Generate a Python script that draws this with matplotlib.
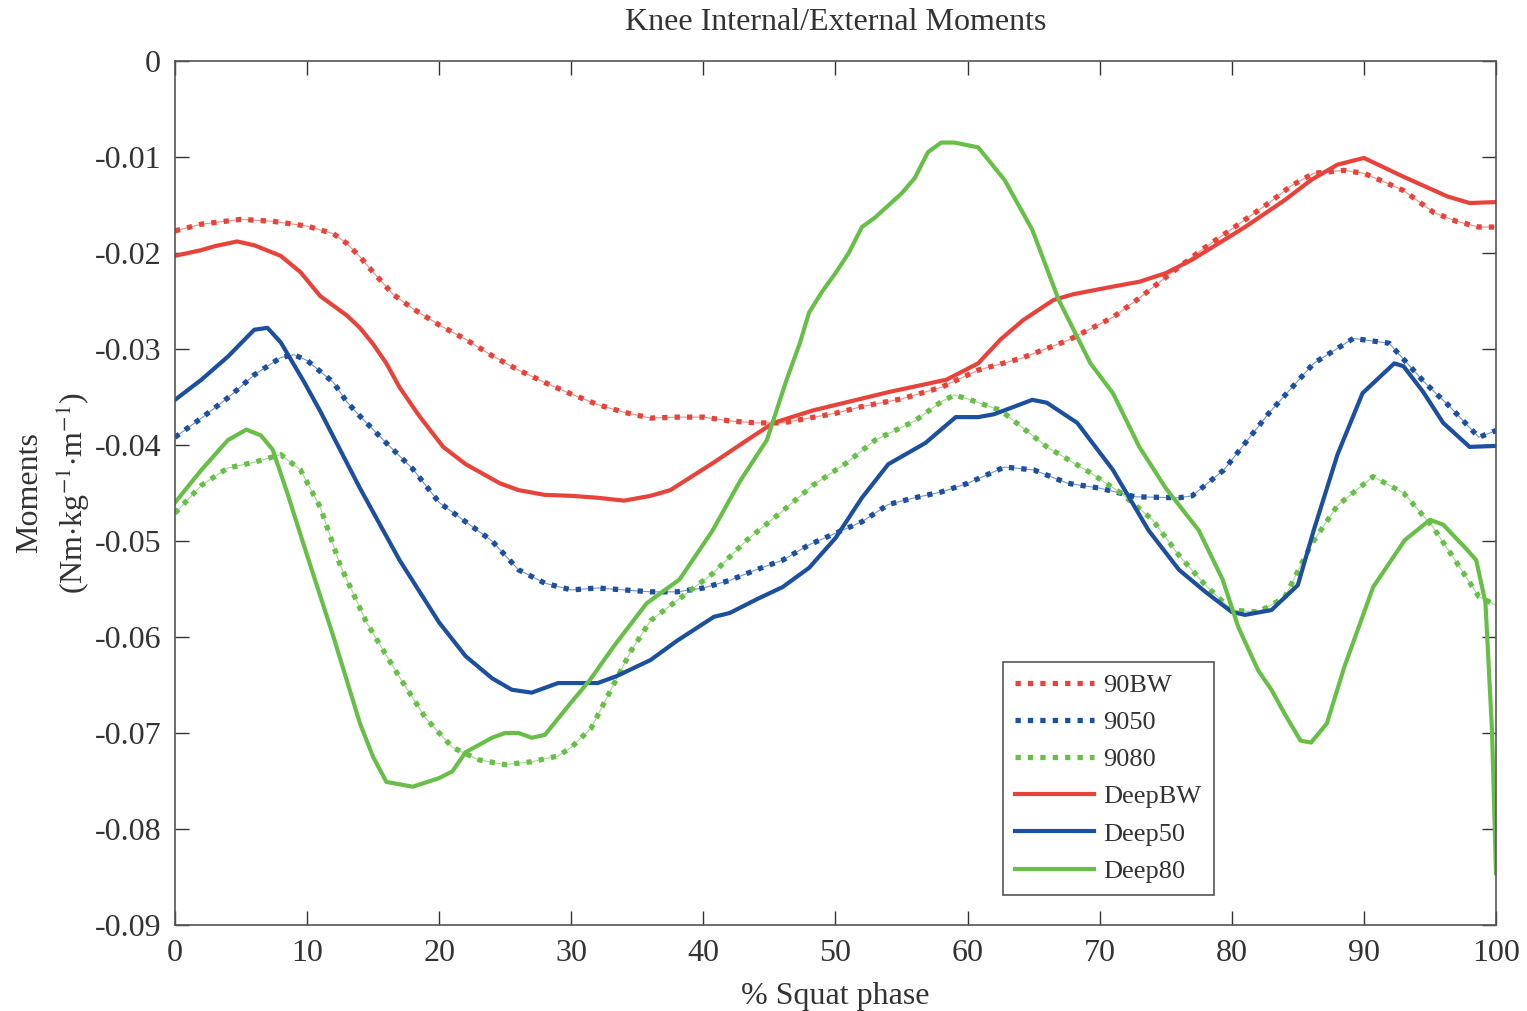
import numpy as np
import matplotlib
matplotlib.use("Agg")
from matplotlib import pyplot as plt

plt.rcParams['font.family'] = ['Liberation Serif', 'DejaVu Serif']
plt.rcParams['mathtext.fontset'] = 'stix'

# squat phase (%) and knee moments for each condition
x_90bw = [0, 2, 5, 7.4, 10, 12, 13, 14, 15, 16.5, 18, 20, 22, 24, 26, 28, 30, 32, 34, 36, 38, 40,
          42, 44, 46, 48, 50, 52, 55, 58, 60.8, 64, 67.6, 71, 73, 75.4, 77.7, 80, 82.8, 84.5, 86.2,
          88.5, 90, 91.2, 93, 95.3, 97, 98.7, 100]
y_90bw = [-0.0177, -0.0170, -0.0165, -0.0167, -0.0172, -0.0180, -0.0190, -0.0204, -0.0220, -0.0243,
          -0.0258, -0.0275, -0.0290, -0.0307, -0.0322, -0.0335, -0.0347, -0.0358, -0.0366, -0.0372,
          -0.0371, -0.0371, -0.0375, -0.0377, -0.0377, -0.0372, -0.0367, -0.0360, -0.0352, -0.0340,
          -0.0322, -0.0310, -0.0291, -0.0267, -0.0247, -0.0221, -0.0197, -0.0175, -0.0148, -0.0130,
          -0.0117, -0.0114, -0.0117, -0.0124, -0.0135, -0.0158, -0.0167, -0.0173, -0.0173]

x_9050 = [0, 2, 4, 6, 8, 9, 10, 12, 13, 14, 16, 18, 20, 22, 24, 26, 28, 30, 32, 34, 36, 38, 40, 42,
          44, 46, 48, 50, 52, 54, 56, 58, 60, 62.8, 65, 67.6, 70, 72.7, 76, 77, 79.4, 82.8, 86.2,
          89.2, 91.9, 94.6, 96.5, 98.7, 100]
y_9050 = [-0.0392, -0.0372, -0.0351, -0.0327, -0.0309, -0.0306, -0.0312, -0.0335, -0.0355, -0.0370,
          -0.0398, -0.0425, -0.0460, -0.0480, -0.0500, -0.0530, -0.0544, -0.0551, -0.0549, -0.0551,
          -0.0553, -0.0553, -0.0549, -0.0541, -0.0530, -0.0520, -0.0504, -0.0492, -0.0480, -0.0462,
          -0.0455, -0.0449, -0.0440, -0.0423, -0.0426, -0.0440, -0.0445, -0.0454, -0.0455, -0.0453,
          -0.0426, -0.0367, -0.0315, -0.0289, -0.0294, -0.0335, -0.0360, -0.0392, -0.0385]

x_9080 = [0, 2, 4, 6, 8, 9.5, 11, 12.5, 14.5, 17, 19, 21, 23, 25, 27, 29, 30, 31.5, 33, 34.5, 36,
          38.2, 40.7, 43.3, 45.8, 48.3, 50.8, 53, 56, 58, 59, 60, 62.5, 66, 69.3, 71.6, 74, 76, 78,
          80, 82, 84, 86, 88, 90.7, 93, 95.2, 97, 98.7, 100]
y_9080 = [-0.0471, -0.0442, -0.0424, -0.0418, -0.0410, -0.0426, -0.0465, -0.0525, -0.0585, -0.0642,
          -0.0685, -0.0715, -0.0728, -0.0733, -0.0730, -0.0724, -0.0715, -0.0695, -0.0655, -0.0615,
          -0.0583, -0.0560, -0.0534, -0.0499, -0.0471, -0.0442, -0.0419, -0.0395, -0.0375, -0.0355,
          -0.0348, -0.0352, -0.0364, -0.0402, -0.0429, -0.0450, -0.0478, -0.0515, -0.0546, -0.0572,
          -0.0574, -0.0559, -0.0504, -0.0463, -0.0433, -0.0450, -0.0485, -0.0522, -0.0558, -0.0567]

x_deepbw = [0, 2, 3, 4.7, 6, 8, 9.5, 11, 13, 14, 15, 16, 17, 18.5, 20.3, 22, 24.6, 26, 28, 30, 32,
            34, 36, 37.5, 40.7, 43.3, 45.3, 48.3, 51, 54, 58.4, 60.8, 62.5, 64.2, 66.5, 68, 71, 73,
            75, 77, 79, 81, 84, 86, 88, 90, 92.9, 96.3, 98, 100]
y_deepbw = [-0.0203, -0.0197, -0.0193, -0.0188, -0.0192, -0.0203, -0.0220, -0.0245, -0.0265, -0.0278,
            -0.0295, -0.0315, -0.0340, -0.0370, -0.0402, -0.0420, -0.0440, -0.0447, -0.0452, -0.0453,
            -0.0455, -0.0458, -0.0453, -0.0447, -0.0419, -0.0395, -0.0377, -0.0364, -0.0355, -0.0345,
            -0.0332, -0.0315, -0.0290, -0.0270, -0.0249, -0.0243, -0.0235, -0.0230, -0.0221, -0.0207,
            -0.0190, -0.0173, -0.0145, -0.0124, -0.0108, -0.0101, -0.0120, -0.0141, -0.0148, -0.0147]

x_deep50 = [0, 2, 4, 6, 7, 8, 9.8, 11, 12.5, 14, 15, 17, 20, 22, 24, 25.5, 27, 29, 32, 33.4, 36,
            38, 40.8, 42, 44, 46, 48, 50, 52, 54, 56.8, 59.1, 60.8, 62, 64.9, 66, 68.3, 71, 73.7,
            76, 78, 80, 81, 83, 85, 86.2, 88, 89.9, 92.3, 93, 94.5, 96, 98, 100]
y_deep50 = [-0.0353, -0.0332, -0.0308, -0.0280, -0.0278, -0.0293, -0.0335, -0.0365, -0.0405, -0.0445,
            -0.0470, -0.0520, -0.0585, -0.0620, -0.0643, -0.0655, -0.0658, -0.0648, -0.0648, -0.0641,
            -0.0624, -0.0604, -0.0579, -0.0575, -0.0561, -0.0548, -0.0528, -0.0497, -0.0455, -0.0420,
            -0.0398, -0.0371, -0.0371, -0.0368, -0.0353, -0.0356, -0.0377, -0.0426, -0.0489, -0.0530,
            -0.0553, -0.0574, -0.0577, -0.0572, -0.0546, -0.0489, -0.0410, -0.0346, -0.0315, -0.0318,
            -0.0345, -0.0377, -0.0402, -0.0401]

x_deep80 = [0, 2, 4, 5.4, 6.5, 7.4, 8.5, 10, 12, 14, 15, 16, 18, 20, 21, 22, 24, 25, 26, 27, 28, 30,
            31.4, 33.2, 35.7, 38.2, 40.7, 42.8, 44.8, 46.3, 47.3, 48, 49, 50, 51, 52, 53, 55, 56,
            57, 58, 59, 60.8, 62.8, 64.9, 66.9, 69.3, 71, 73, 75, 77.5, 79.3, 80.5, 82, 83, 84,
            85.2, 86, 87.2, 88.5, 90.7, 93.1, 95, 96, 97.8, 98.5, 99.2, 99.7, 100]
y_deep80 = [-0.0460, -0.0426, -0.0395, -0.0384, -0.0390, -0.0405, -0.0450, -0.0515, -0.0600, -0.0690,
            -0.0725, -0.0751, -0.0756, -0.0747, -0.0740, -0.0720, -0.0705, -0.0700, -0.0700, -0.0705,
            -0.0702, -0.0668, -0.0645, -0.0610, -0.0565, -0.0540, -0.0489, -0.0437, -0.0395, -0.0332,
            -0.0294, -0.0262, -0.0240, -0.0221, -0.0200, -0.0173, -0.0163, -0.0138, -0.0122, -0.0095,
            -0.0085, -0.0085, -0.0090, -0.0124, -0.0176, -0.0249, -0.0315, -0.0346, -0.0402, -0.0445,
            -0.0489, -0.0540, -0.0590, -0.0635, -0.0655, -0.0680, -0.0708, -0.0710, -0.0690, -0.0632,
            -0.0548, -0.0499, -0.0478, -0.0483, -0.0509, -0.0520, -0.0564, -0.0698, -0.0846]

red = '#e8433b'
blue = '#1d4f9f'
green = '#68bf48'

fig = plt.figure(figsize=(15.27, 10.11), dpi=100)
ax = fig.add_axes([0.1146, 0.0851, 0.8651, 0.8546])

# 90 degree squats: square dots with a faint line running through the gaps
dotted = (0, (1.0, 1.35))
for xs, ys, c, lab in [(x_90bw, y_90bw, red, '90BW'),
                       (x_9050, y_9050, blue, '9050'),
                       (x_9080, y_9080, green, '9080')]:
    ax.plot(xs, ys, color=c, lw=0.8, alpha=0.6)
    ax.plot(xs, ys, color=c, lw=3.8, linestyle=dotted, label=lab)

ax.plot(x_deepbw, y_deepbw, color=red, lw=3, label='DeepBW')
ax.plot(x_deep50, y_deep50, color=blue, lw=3, label='Deep50')
ax.plot(x_deep80, y_deep80, color=green, lw=3, label='Deep80')

ax.set_xlim(0, 100)
ax.set_ylim(-0.09, 0)
ax.set_xticks(np.arange(0, 101, 10))
ax.set_yticks(np.arange(-0.09, 0.001, 0.01))
ax.set_yticklabels(['-0.09', '-0.08', '-0.07', '-0.06', '-0.05', '-0.04',
                    '-0.03', '-0.02', '-0.01', '0'])
ax.tick_params(direction='in', top=True, right=True, length=10, width=1,
               labelsize=23, colors='#333333', pad=10)
for s in ax.spines.values():
    s.set_color('#555555')
    s.set_linewidth(1.2)

ax.set_title('Knee Internal/External Moments', fontsize=23, color='#333333', pad=22)
ax.set_xlabel('% Squat phase', fontsize=23, color='#333333', labelpad=10)
ax.set_ylabel('Moments\n(Nm$\\cdot$kg$^{-1}$$\\cdot$m$^{-1}$)', fontsize=23,
              color='#333333', labelpad=2, linespacing=1.3)

leg = ax.legend(loc='lower left', bbox_to_anchor=(0.627, 0.035),
                fontsize=19, handlelength=3.0, handletextpad=0.35,
                labelspacing=0.52, borderpad=0.45, borderaxespad=0,
                fancybox=False, framealpha=1)
leg.get_frame().set_edgecolor('#555555')
leg.get_frame().set_linewidth(1.2)
for t in leg.get_texts():
    t.set_color('#333333')

fig.savefig('out.png', dpi=100)
